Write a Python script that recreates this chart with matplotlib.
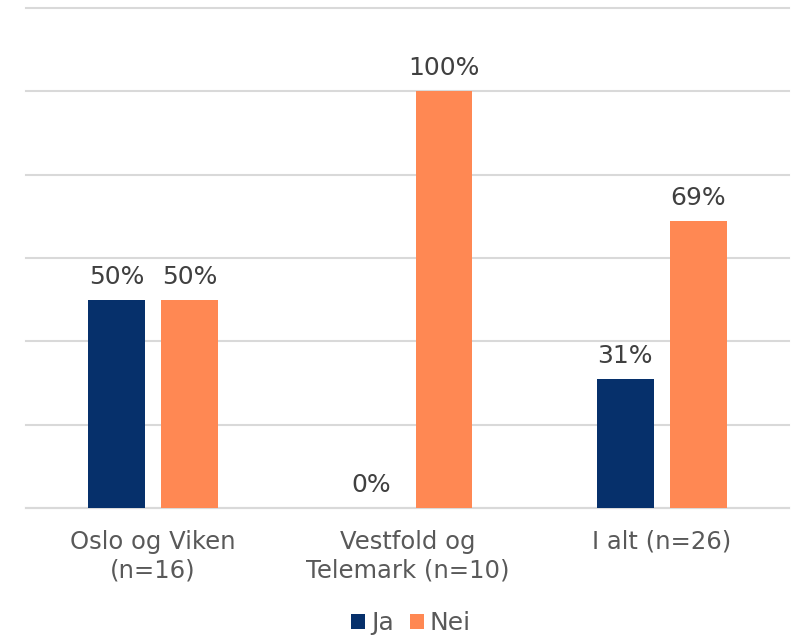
import matplotlib.pyplot as plt
import numpy as np

categories = ["Oslo og Viken\n(n=16)", "Vestfold og\nTelemark (n=10)", "I alt (n=26)"]
ja = [50, 0, 31]
nei = [50, 100, 69]
series_names = ["Ja", "Nei"]

navy = "#06306b"
orange = "#ff8853"
text_col = "#595959"
label_col = "#404040"
grid_col = "#d9d9d9"
fs = 18

fig = plt.figure(figsize=(7.95, 6.42), dpi=100)
ax = fig.add_axes([26 / 795, 1 - 508 / 642, 763 / 795, 500 / 642])

x = np.arange(len(categories))
w = 0.224
off = 0.1435
b1 = ax.bar(x - off, ja, w, color=navy, label=series_names[0], zorder=3)
b2 = ax.bar(x + off, nei, w, color=orange, label=series_names[1], zorder=3)

for bars, vals in [(b1, ja), (b2, nei)]:
    for rect, v in zip(bars, vals):
        ax.annotate(f"{v}%", (rect.get_x() + rect.get_width() / 2, v),
                    xytext=(0, 11.5), textcoords="offset points",
                    ha="center", va="baseline", fontsize=fs, color=label_col)

ax.set_xlim(-0.5, 2.5)
ax.set_ylim(0, 120)
ax.set_yticks(np.arange(0, 121, 20))
ax.yaxis.grid(True, color=grid_col, linewidth=1.5, zorder=0)
for gl in ax.get_ygridlines():
    gl.set_clip_on(False)
ax.tick_params(axis="y", left=False, labelleft=False)
ax.tick_params(axis="x", bottom=False, pad=12)
ax.set_xticks(x)
ax.set_xticklabels(categories, fontsize=17.5, color=text_col, linespacing=1.25)
for s in ["top", "right", "left"]:
    ax.spines[s].set_visible(False)
ax.spines["bottom"].set_color(grid_col)
ax.spines["bottom"].set_linewidth(1.5)

leg = fig.legend(loc="center", bbox_to_anchor=(411 / 795, 1 - 623 / 642), ncol=2,
                 frameon=False, fontsize=fs, handlelength=0.56, handleheight=0.56,
                 handletextpad=0.24, columnspacing=0.64)
for t in leg.get_texts():
    t.set_color(text_col)

fig.savefig("out.png", dpi=100)
